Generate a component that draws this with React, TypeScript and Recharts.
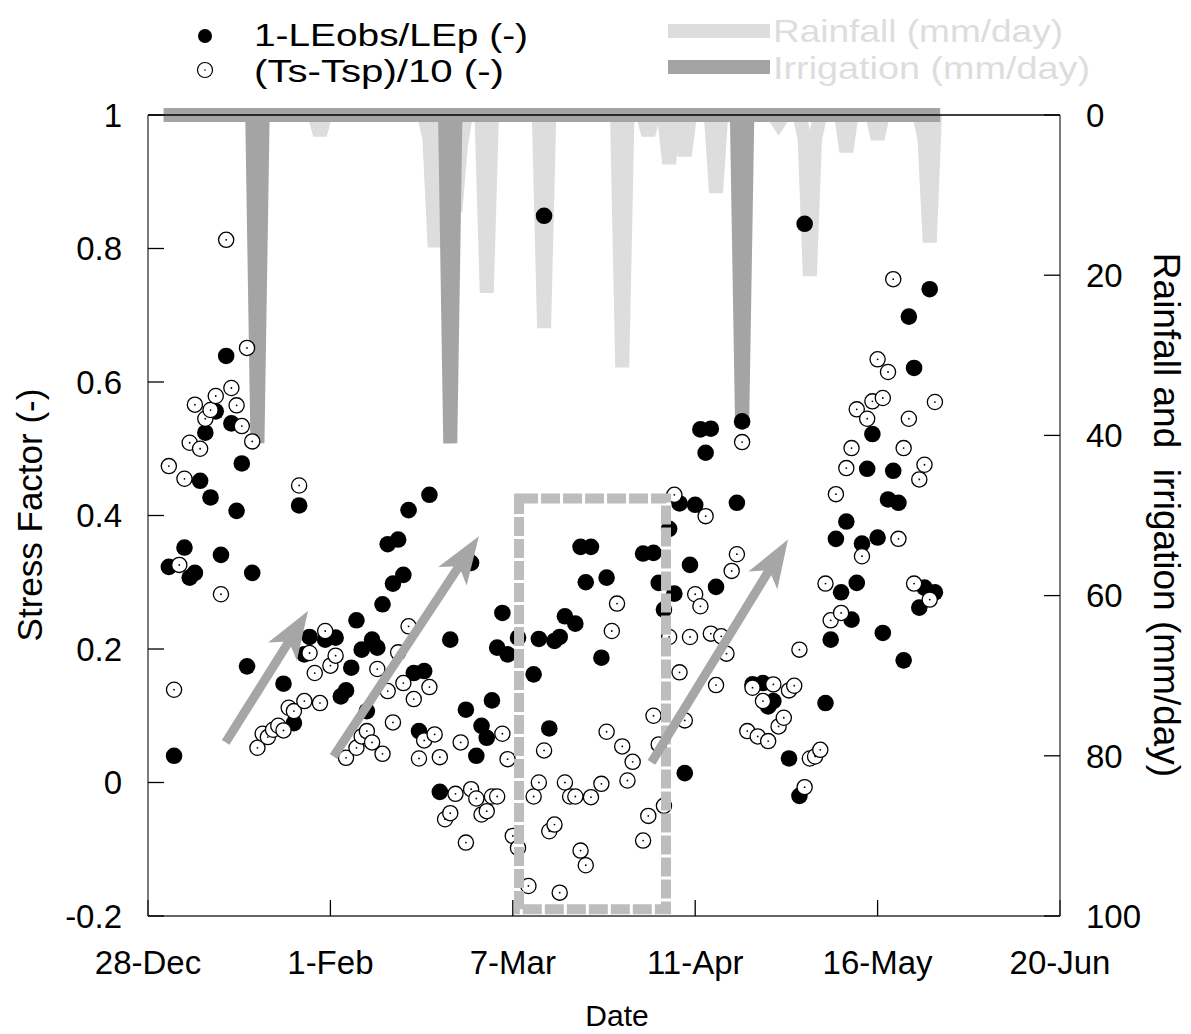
import React from 'react';
import { ComposedChart, Line, Scatter, XAxis, YAxis, ReferenceArea, ReferenceLine } from 'recharts';

const FONT = '"Liberation Sans", Arial, Helvetica, sans-serif';
const RAIN_COLOR = '#dddddd';
const IRR_COLOR = '#a4a4a4';
const BOX_COLOR = '#bdbdbd';
const ARROW_COLOR = '#a6a6a6';

// x axis: days since 28-Dec
const xTickValues = [0, 35, 70, 105, 140, 175];
const xTickLabels = ['28-Dec', '1-Feb', '7-Mar', '11-Apr', '16-May', '20-Jun'];
const leftTickValues = [-0.2, 0, 0.2, 0.4, 0.6, 0.8, 1];
const leftTickLabels = ['-0.2', '0', '0.2', '0.4', '0.6', '0.8', '1'];
const rightTickValues = [0, 20, 40, 60, 80, 100];

const seriesFirstDay = 3;
const seriesLastDay = 152;

const rainDays = [33, 54, 55, 59, 60, 65, 76, 91, 96, 100, 103, 109, 121, 126, 127, 128, 134, 140, 149, 150];
const rainValues = [2.5, 3, 16.5, 12, 4, 22.2, 26.6, 31.5, 2.5, 6.1, 5.1, 9.7, 1, 3, 20.1, 3, 4.6, 3, 3, 15.9];
const irrigationDays = [21, 58, 114];
const irrigationValues = [41, 41, 39];

const blackDays = [
  4, 5, 7, 8, 9, 10, 11, 12, 13, 14, 15, 16, 17, 18, 19, 20,
  26, 28, 29, 30, 31, 34, 36, 37, 38, 39, 40, 41, 42, 43, 44, 45, 46, 47, 48, 49, 50, 51, 52, 53, 54,
  56, 58, 61, 62, 63, 64, 65, 66, 67, 68, 69, 71, 74, 75, 76, 77, 78, 79, 80, 82, 83, 84, 85, 87, 88,
  95, 97, 98, 99, 100, 101, 102, 103, 104, 105, 106, 107, 108, 109, 113, 114,
  116, 118, 119, 120, 123, 125, 126, 130, 131, 132, 133, 134, 135, 136, 137, 138, 139, 140,
  141, 142, 143, 144, 145, 146, 147, 148, 149, 150, 151,
];
const blackValues = [
  0.323, 0.04, 0.352, 0.307, 0.314, 0.452, 0.524, 0.427, 0.556, 0.341, 0.639, 0.538, 0.407, 0.478, 0.174, 0.314,
  0.148, 0.089, 0.415, 0.192, 0.218, 0.214, 0.217, 0.129, 0.138, 0.172, 0.243, 0.199, 0.107, 0.214, 0.202, 0.267, 0.357, 0.298, 0.364, 0.311, 0.408, 0.164, 0.077, 0.167, 0.431,
  -0.014, 0.214, 0.109, 0.329, 0.04, 0.085, 0.067, 0.123, 0.202, 0.254, 0.192, 0.217, 0.162, 0.215, 0.849, 0.081, 0.212, 0.218, 0.249, 0.238, 0.353, 0.3, 0.353, 0.187, 0.307,
  0.343, 0.344, 0.299, 0.259, 0.38, 0.283, 0.418, 0.014, 0.326, 0.416, 0.529, 0.494, 0.53, 0.293, 0.419, 0.541,
  0.147, 0.149, 0.114, 0.122, 0.036, -0.02, 0.837, 0.119, 0.214, 0.365, 0.285, 0.391, 0.244, 0.299, 0.358, 0.47, 0.522, 0.367,
  0.224, 0.424, 0.467, 0.419, 0.183, 0.698, 0.621, 0.262, 0.292, 0.739, 0.285,
];

const hollowDays = [
  4, 5, 6, 7, 8, 9, 10, 11, 12, 13, 14, 15, 16, 17, 18, 19, 20,
  21, 22, 23, 24, 25, 26, 27, 28, 29, 30, 31, 32, 33, 34, 35, 36,
  38, 40, 41, 42, 43, 44, 45, 46, 47, 48, 49, 50, 51, 52, 53, 54, 55, 56, 57, 58, 59, 60,
  61, 62, 63, 64, 65, 66, 67, 68, 69, 70, 71, 73, 74, 75, 76, 77, 78, 79, 80,
  81, 82, 83, 84, 85, 87, 88, 89, 90, 91, 92, 93, 95, 96, 97, 98, 99, 100,
  101, 102, 103, 104, 105, 106, 107, 108, 109, 110, 111, 112, 113, 114, 115, 116, 117, 118, 119, 120,
  121, 122, 123, 124, 125, 126, 127, 128, 129, 130, 131, 132, 133, 134, 135, 136, 137, 138, 139, 140,
  141, 142, 143, 144, 145, 146, 147, 148, 149, 150, 151,
];
const hollowValues = [
  0.474, 0.139, 0.326, 0.455, 0.509, 0.566, 0.5, 0.545, 0.558, 0.579, 0.282, 0.813, 0.591, 0.565, 0.534, 0.651, 0.511,
  0.052, 0.073, 0.068, 0.079, 0.085, 0.078, 0.112, 0.107, 0.445, 0.122, 0.194, 0.164, 0.119, 0.227, 0.175, 0.19,
  0.037, 0.052, 0.069, 0.077, 0.06, 0.17, 0.043, 0.137, 0.09, 0.195, 0.149, 0.234, 0.125, 0.036, 0.063, 0.143, 0.072, 0.038, -0.055, -0.046, -0.017, 0.06,
  -0.09, -0.01, -0.024, -0.048, -0.043, -0.021, -0.021, 0.073, 0.035, -0.08, -0.098, -0.155, -0.021, 0, 0.048, -0.073, -0.063, -0.165, 0,
  -0.021, -0.021, -0.102, -0.124, -0.022, -0.002, 0.076, 0.227, 0.268, 0.054, 0.003, 0.031, -0.087, -0.05, 0.1, 0.057, -0.035, 0.218,
  0.431, 0.165, 0.093, 0.218, 0.282, 0.264, 0.399, 0.223, 0.146, 0.219, 0.193, 0.317, 0.342, 0.51, 0.077, 0.142, 0.069, 0.122, 0.062, 0.147,
  0.084, 0.097, 0.138, 0.145, 0.199, -0.007, 0.036, 0.039, 0.049, 0.298, 0.243, 0.432, 0.254, 0.471, 0.501, 0.559, 0.339, 0.545, 0.571, 0.634,
  0.576, 0.615, 0.754, 0.365, 0.501, 0.545, 0.298, 0.454, 0.476, 0.274, 0.57,
];

// annotation: dashed box (days, stress factor) and arrows
const boxDays = [71.2, 99.4];
const boxValues = [-0.19, 0.4255];
const arrowTailDays = [14.9, 35.6, 96.6];
const arrowTailValues = [0.06, 0.039, 0.03];
const arrowTipDays = [30.7, 63.5, 122.8];
const arrowTipValues = [0.257, 0.369, 0.364];

const daily: { d: number; rain: number; irr: number }[] = [];
for (let d = seriesFirstDay; d <= seriesLastDay; d++) {
  const ri = rainDays.indexOf(d);
  const ii = irrigationDays.indexOf(d);
  daily.push({ d, rain: ri >= 0 ? rainValues[ri] : 0, irr: ii >= 0 ? irrigationValues[ii] : 0 });
}
const blackData = blackDays.map((d, i) => ({ d, v: blackValues[i] }));
const hollowData = hollowDays.map((d, i) => ({ d, v: hollowValues[i] }));

const BlackDot = (p: any) => {
  if (p.cx == null || p.cy == null) return null;
  return <circle cx={p.cx} cy={p.cy} r={8.3} fill="#000" />;
};
const HollowDot = (p: any) => {
  if (p.cx == null || p.cy == null) return null;
  return (
    <g>
      <circle cx={p.cx} cy={p.cy} r={7.6} fill="#fff" stroke="#000" strokeWidth={1.3} />
      <circle cx={p.cx} cy={p.cy} r={0.9} fill="#000" />
    </g>
  );
};

const ArrowShape = (p: any) => {
  const { x1, y1, x2, y2 } = p;
  if ([x1, y1, x2, y2].some((v) => v == null || isNaN(v))) return null;
  const dx = x2 - x1;
  const dy = y2 - y1;
  const len = Math.hypot(dx, dy);
  const ux = dx / len;
  const uy = dy / len;
  const nx = -uy;
  const ny = ux;
  const headLen = 48;
  const half = 17;
  const notch = 36;
  const bx = x2 - ux * headLen;
  const by = y2 - uy * headLen;
  const nxp = x2 - ux * notch;
  const nyp = y2 - uy * notch;
  const pts = [
    [x2, y2],
    [bx + nx * half, by + ny * half],
    [nxp, nyp],
    [bx - nx * half, by - ny * half],
  ]
    .map((q) => q.join(','))
    .join(' ');
  return (
    <g>
      <line x1={x1} y1={y1} x2={x2 - ux * (notch - 2)} y2={y2 - uy * (notch - 2)} stroke={ARROW_COLOR} strokeWidth={9} />
      <polygon points={pts} fill={ARROW_COLOR} />
    </g>
  );
};

const tickStyle = { fontSize: 33, fontFamily: FONT, fill: '#000' };

export default function App() {
  return (
    <div style={{ position: 'absolute', left: 0, top: 0, width: 1191, height: 1034, background: '#fff' }}>
      <ComposedChart width={1191} height={1034} margin={{ top: 114, right: 0, bottom: 0, left: 0 }}>
        <XAxis
          dataKey="d"
          type="number"
          domain={[0, 175]}
          ticks={xTickValues}
          interval={0}
          tickFormatter={(v: number) => xTickLabels[xTickValues.indexOf(v)] ?? ''}
          tickSize={-16}
          tickMargin={51}
          height={118}
          tick={tickStyle}
          axisLine={{ stroke: '#333', strokeWidth: 1.3 }}
          tickLine={{ stroke: '#000', strokeWidth: 1.3 }}
        />
        <XAxis
          xAxisId="top"
          orientation="top"
          type="number"
          domain={[0, 175]}
          ticks={xTickValues}
          interval={0}
          tickFormatter={() => ''}
          tickSize={-16}
          height={1}
          axisLine={{ stroke: '#000', strokeWidth: 1.3 }}
          tickLine={{ stroke: '#000', strokeWidth: 1.3 }}
        />
        <YAxis
          yAxisId="left"
          dataKey="v"
          type="number"
          domain={[-0.2, 1]}
          ticks={leftTickValues}
          interval={0}
          tickFormatter={(v: number, i: number) => leftTickLabels[i] ?? String(v)}
          tickSize={-16}
          tickMargin={42}
          width={148}
          tick={tickStyle}
          axisLine={{ stroke: '#333', strokeWidth: 1.3 }}
          tickLine={{ stroke: '#000', strokeWidth: 1.3 }}
        />
        <YAxis
          yAxisId="right"
          orientation="right"
          type="number"
          domain={[0, 100]}
          reversed
          ticks={rightTickValues}
          interval={0}
          tickSize={-16}
          tickMargin={42}
          width={131}
          tick={tickStyle}
          axisLine={{ stroke: '#333', strokeWidth: 1.3 }}
          tickLine={{ stroke: '#000', strokeWidth: 1.3 }}
        />
        <Line
          yAxisId="right"
          data={daily}
          dataKey="rain"
          type="linear"
          stroke={RAIN_COLOR}
          strokeWidth={14}
          strokeLinejoin="miter"
          strokeMiterlimit={2}
          dot={false}
          activeDot={false}
          isAnimationActive={false}
        />
        <Line
          yAxisId="right"
          data={daily}
          dataKey="irr"
          type="linear"
          stroke={IRR_COLOR}
          strokeWidth={14}
          strokeLinejoin="miter"
          strokeMiterlimit={2}
          dot={false}
          activeDot={false}
          isAnimationActive={false}
        />
        <Scatter yAxisId="left" data={blackData} dataKey="v" shape={BlackDot} isAnimationActive={false} />
        <Scatter yAxisId="left" data={hollowData} dataKey="v" shape={HollowDot} isAnimationActive={false} />
        <ReferenceArea
          yAxisId="left"
          x1={boxDays[0]}
          x2={boxDays[1]}
          y1={boxValues[0]}
          y2={boxValues[1]}
          fill="none"
          fillOpacity={0}
          stroke={BOX_COLOR}
          strokeWidth={10}
          strokeDasharray="19 3"
          zIndex={1000}
        />
        {arrowTailDays.map((d, i) => (
          <ReferenceLine
            key={'arrow' + i}
            yAxisId="left"
            segment={[
              { x: d, y: arrowTailValues[i] },
              { x: arrowTipDays[i], y: arrowTipValues[i] },
            ]}
            stroke={ARROW_COLOR}
            shape={ArrowShape}
            zIndex={1000}
          />
        ))}
      </ComposedChart>
      <svg
        width={1191}
        height={1034}
        style={{ position: 'absolute', left: 0, top: 0, pointerEvents: 'none' }}
        fontFamily={FONT}
      >
        <circle cx={205} cy={36} r={7} fill="#000" />
        <text x={254} y={46} fontSize={32} fill="#000" textLength={274} lengthAdjust="spacingAndGlyphs">
          1-LEobs/LEp (-)
        </text>
        <circle cx={205} cy={70} r={7.5} fill="#fff" stroke="#000" strokeWidth={1.2} />
        <circle cx={205} cy={70} r={0.8} fill="#000" />
        <text x={254} y={82} fontSize={32} fill="#000" textLength={250} lengthAdjust="spacingAndGlyphs">
          (Ts-Tsp)/10 (-)
        </text>
        <line x1={668} x2={770} y1={31} y2={31} stroke={RAIN_COLOR} strokeWidth={14} />
        <text x={773} y={42} fontSize={32} fill={RAIN_COLOR} textLength={290} lengthAdjust="spacingAndGlyphs">
          Rainfall (mm/day)
        </text>
        <line x1={668} x2={770} y1={67} y2={67} stroke={IRR_COLOR} strokeWidth={14} />
        <text x={773} y={79} fontSize={32} fill={RAIN_COLOR} textLength={317} lengthAdjust="spacingAndGlyphs">
          Irrigation (mm/day)
        </text>
        <text
          transform="translate(29,515) rotate(-90)"
          textAnchor="middle"
          dominantBaseline="central"
          fontSize={35}
          fill="#000"
        >
          Stress Factor (-)
        </text>
        <text
          transform="translate(1166,515) rotate(90)"
          textAnchor="middle"
          dominantBaseline="central"
          fontSize={37}
          fill="#000"
          style={{ whiteSpace: 'pre' }}
        >
          {'Rainfall and  irrigation (mm/day)'}
        </text>
        <text x={617} y={1015} textAnchor="middle" dominantBaseline="central" fontSize={30} fill="#000">
          Date
        </text>
      </svg>
    </div>
  );
}
